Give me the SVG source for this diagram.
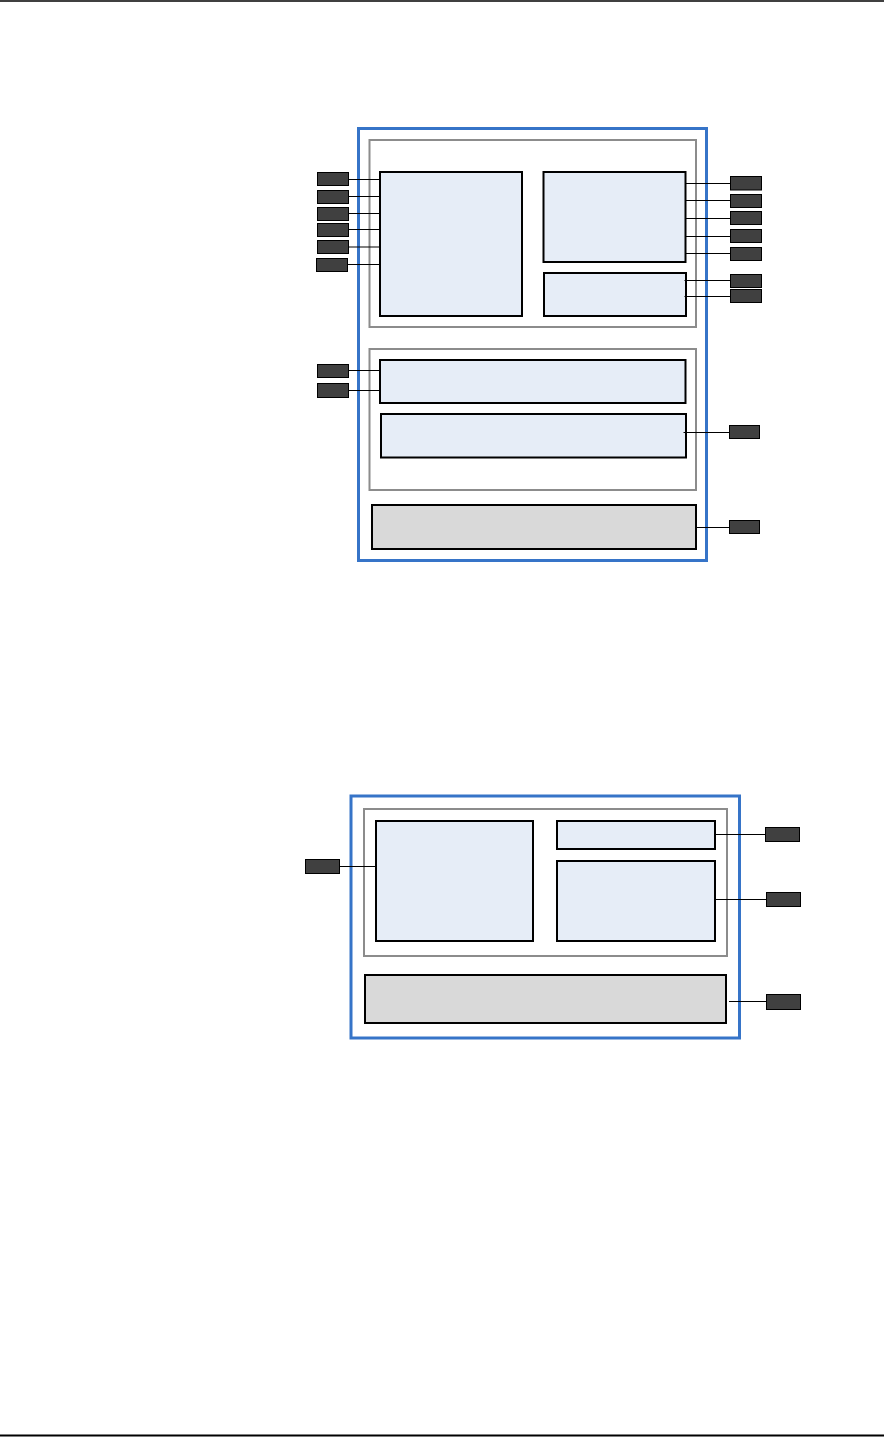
<svg xmlns="http://www.w3.org/2000/svg" width="884" height="1437" viewBox="0 0 884 1437">
<style>
.outer{fill:none;stroke:#3674C8;stroke-width:3}
.grp{fill:none;stroke:#8C8C8C;stroke-width:2}
.blk{fill:#E6EDF7;stroke:#000;stroke-width:2}
.gry{fill:#D9D9D9;stroke:#000;stroke-width:2}
.pin{fill:#404040;stroke:#000;stroke-width:1}
.wire{stroke:#000;stroke-width:1.2;fill:none}
</style>
<rect width="884" height="1437" fill="#fff"/>
<line x1="0" y1="1" x2="884" y2="1" stroke="#000" stroke-width="1.5"/>
<line x1="0" y1="1435.5" x2="884" y2="1435.5" stroke="#000" stroke-width="2"/>

<g id="diagram1">
  <rect id="d1-outer" class="outer" x="358.5" y="128.5" width="348" height="432"/>
  <rect id="d1-grp1" class="grp" x="369.5" y="140" width="326.5" height="187"/>
  <rect id="d1-grp2" class="grp" x="369.5" y="349" width="326.5" height="141"/>
  <g id="d1-left"><rect class="blk" x="380" y="172" width="142" height="144"/></g>
  <g id="d1-rtop"><rect class="blk" x="543.5" y="172" width="142" height="90"/></g>
  <g id="d1-rbot"><rect class="blk" x="544" y="273" width="142" height="43"/></g>
  <g id="d1-mid1"><rect class="blk" x="380" y="360" width="305.5" height="43"/></g>
  <g id="d1-mid2"><rect class="blk" x="381" y="414" width="305" height="43.5"/></g>
  <g id="d1-base"><rect class="gry" x="372" y="505" width="324" height="44"/></g>
  <g id="d1-pins">
    <rect class="pin" x="317.5" y="172.5" width="31" height="13"/>
    <rect class="pin" x="317.5" y="190.5" width="31" height="13"/>
    <rect class="pin" x="317.5" y="207.5" width="31" height="13"/>
    <rect class="pin" x="317.5" y="223.5" width="31" height="13"/>
    <rect class="pin" x="317.5" y="240.5" width="31" height="13"/>
    <rect class="pin" x="316.5" y="258.5" width="31" height="13"/>
    <rect class="pin" x="730.5" y="176.5" width="31" height="13.5"/>
    <rect class="pin" x="730.5" y="194.5" width="31" height="13"/>
    <rect class="pin" x="730.5" y="211.5" width="31" height="13"/>
    <rect class="pin" x="730.5" y="229.5" width="31" height="13"/>
    <rect class="pin" x="730.5" y="247.5" width="31" height="13"/>
    <rect class="pin" x="730.5" y="274.5" width="31" height="13"/>
    <rect class="pin" x="730.5" y="289.5" width="31" height="13"/>
    <rect class="pin" x="317.5" y="364.5" width="31" height="13"/>
    <rect class="pin" x="317.5" y="383.5" width="31" height="14"/>
    <rect class="pin" x="729.5" y="425.5" width="30" height="13"/>
    <rect class="pin" x="729.5" y="520.5" width="30" height="13"/>
  </g>
</g>

<g id="diagram2">
  <rect id="d2-outer" class="outer" x="351" y="796" width="388.5" height="242"/>
  <rect id="d2-grp" class="grp" x="364" y="809" width="363" height="147"/>
  <g id="d2-left"><rect class="blk" x="376" y="821" width="157" height="120"/></g>
  <g id="d2-rtop"><rect class="blk" x="557" y="821" width="158" height="28"/></g>
  <g id="d2-rbot"><rect class="blk" x="557" y="861" width="158" height="80"/></g>
  <g id="d2-base"><rect class="gry" x="365" y="975" width="361" height="48"/></g>
  <g id="d2-pins">
    <rect class="pin" x="305.5" y="859.5" width="34" height="14"/>
    <rect class="pin" x="765.5" y="827.5" width="34" height="14"/>
    <rect class="pin" x="766.5" y="892.5" width="34" height="14"/>
    <rect class="pin" x="766.5" y="994.5" width="34" height="15"/>
  </g>
</g>

<g id="connectors">
  <path class="wire" d="M348.5 179.5H380 M348.5 196.5H380 M348.5 213.5H380 M348.5 229.5H380 M348.5 247H380 M347.5 264.5H380"/>
  <path class="wire" d="M685.5 183.5H730.5 M685.5 200.5H730.5 M685.5 218.5H730.5 M685.5 236.5H730.5 M685.5 253.5H730.5 M684.5 280.5H730.5 M684.5 296.5H730.5"/>
  <path class="wire" d="M348.5 370.5H380 M348.5 390.5H380"/>
  <path class="wire" d="M683.5 432.5H729.5 M696 527.5H729.5"/>
  <path class="wire" d="M339.5 866.5H376"/>
  <path class="wire" d="M715 834.5H765.5 M715 899.5H766.5 M729 1001.5H766.5"/>
</g>
</svg>
